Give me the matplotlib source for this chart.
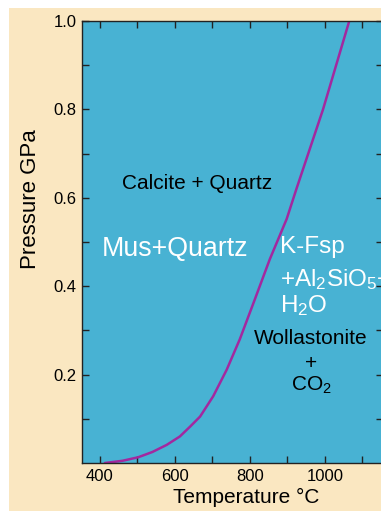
import numpy as np
import matplotlib
matplotlib.use("Agg")
import matplotlib.pyplot as plt
from matplotlib.patches import Rectangle

plt.rcParams["font.family"] = ["Liberation Sans", "DejaVu Sans"]
plt.rcParams["mathtext.default"] = "regular"

# ── Data ──────────────────────────────────────────────────────────────────────
temp_c = [413, 460, 502, 540, 578, 613, 640, 667, 702, 738, 773, 813, 853,
          898, 924, 995, 1065]
press_gpa = [0.0, 0.005, 0.013, 0.025, 0.041, 0.06, 0.082, 0.105, 0.151,
             0.211, 0.28, 0.37, 0.461, 0.552, 0.62, 0.80, 1.0]

xticks = [400, 500, 600, 700, 800, 900, 1000, 1100]
xticklabels = ["400", "", "600", "", "800", "", "1000", ""]
yticks = [0.1, 0.2, 0.3, 0.4, 0.5, 0.6, 0.7, 0.8, 0.9, 1.0]
yticklabels = ["", "0.2", "", "0.4", "", "0.6", "", "0.8", "", "1.0"]

BEIGE = "#FAE7C1"
BLUE = "#48B2D3"
MAGENTA = "#A3289F"

# ── Figure ────────────────────────────────────────────────────────────────────
W, H = 381, 511
fig = plt.figure(figsize=(W / 100, H / 100), dpi=100)
fig.patch.set_facecolor("white")
fig.patches.append(Rectangle((9 / W, 0), 1, 1 - 8 / H, transform=fig.transFigure,
                             facecolor=BEIGE, edgecolor="none", zorder=-10))

# right spine sits just off the image, as in the original
ax = fig.add_axes([82 / W, 1 - 463 / H, (383 - 82) / W, (463 - 21) / H])
ax.set_facecolor(BLUE)
ax.plot(temp_c, press_gpa, color=MAGENTA, lw=1.8, solid_capstyle="round",
        solid_joinstyle="round")

ax.set_xlim(352, 1155)
ax.set_ylim(0, 1.0)
ax.set_xticks(xticks)
ax.set_xticklabels(xticklabels)
ax.set_yticks(yticks)
ax.set_yticklabels(yticklabels)
ax.tick_params(direction="in", length=5, width=1, top=True, right=True,
               labelsize=12, pad=4, color="#222222")
for s in ax.spines.values():
    s.set_linewidth(1.0)
    s.set_color("#222222")

fig.text(30 / W, 1 - 199 / H, "Pressure GPa", rotation=90, fontsize=16,
         ha="center", va="center")
fig.text(246 / W, 1 - 497 / H, "Temperature °C", fontsize=15,
         ha="center", va="center")

# Field labels
ax.text(197.5 / W, 1 - 183 / H, "Calcite + Quartz", transform=fig.transFigure,
        fontsize=15, ha="center", va="center", color="black")
ax.text(175.5 / W, 1 - 249 / H, "Mus+Quartz", transform=fig.transFigure,
        fontsize=19.3, ha="center", va="center", color="white")
ax.text(280 / W, 1 - 247 / H, "K-Fsp", transform=fig.transFigure,
        fontsize=17.5, ha="left", va="center", color="white")
ax.text(280 / W, 1 - 280 / H, "+Al$_2$SiO$_5$+", transform=fig.transFigure,
        fontsize=17.5, ha="left", va="center", color="white", clip_on=False)
ax.text(280 / W, 1 - 306 / H, "H$_2$O", transform=fig.transFigure,
        fontsize=17.5, ha="left", va="center", color="white")
ax.text(311 / W, 1 - 338 / H, "Wollastonite", transform=fig.transFigure,
        fontsize=15, ha="center", va="center", color="black")
ax.text(311 / W, 1 - 363 / H, "+", transform=fig.transFigure,
        fontsize=15, ha="center", va="center", color="black")
ax.text(311 / W, 1 - 385 / H, "CO$_2$", transform=fig.transFigure,
        fontsize=15, ha="center", va="center", color="black")

fig.savefig("out.png", dpi=100)
